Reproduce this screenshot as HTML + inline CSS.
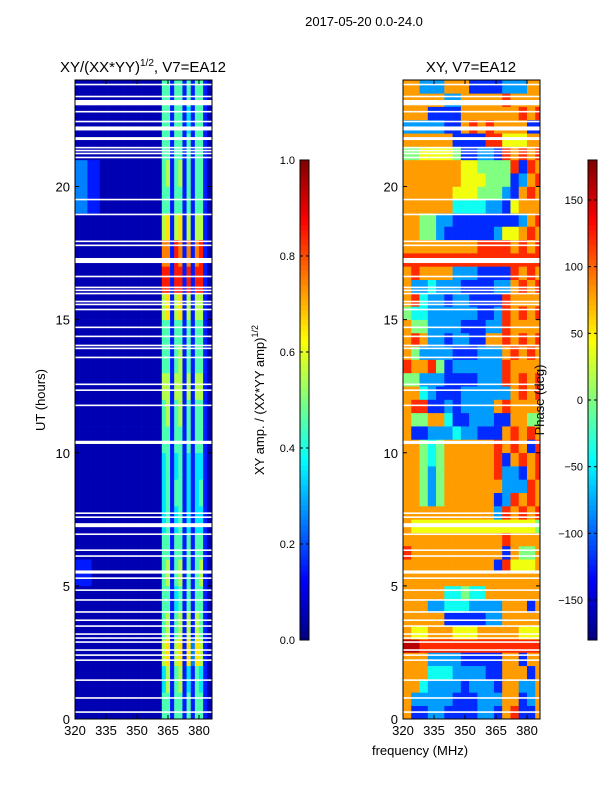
<!DOCTYPE html>
<html><head><meta charset="utf-8"><style>
body{margin:0;background:#fff;width:600px;height:800px;overflow:hidden;font-family:"Liberation Sans",sans-serif}
svg text{font-family:"Liberation Sans",sans-serif;fill:#000}
</style></head><body>
<svg id="fig" width="600" height="800" xmlns="http://www.w3.org/2000/svg">
<text x="364" y="26" font-size="13" text-anchor="middle">2017-05-20 0.0-24.0</text>
<text x="143" y="72" font-size="15" text-anchor="middle">XY/(XX*YY)<tspan font-size="10" dy="-6">1/2</tspan><tspan dy="6">, V7=EA12</tspan></text>
<text x="471" y="72" font-size="15" text-anchor="middle">XY, V7=EA12</text>
<text x="45" y="400" font-size="13" text-anchor="middle" transform="rotate(-90 45 400)">UT (hours)</text>
<text x="420" y="755" font-size="13" text-anchor="middle">frequency (MHz)</text>
<text x="264" y="400" font-size="13" text-anchor="middle" transform="rotate(-90 264 400)">XY amp. / (XX*YY amp)<tspan font-size="9" dy="-6">1/2</tspan></text>
<g id="gL"></g>
<g id="gR"></g>
<g id="axes"></g>
<text x="544" y="400" font-size="13" text-anchor="middle" transform="rotate(-90 544 400)">Phase (deg)</text>
</svg>
<script>
const freqMin = 320, freqMax = 386.3, hourMin = 0, hourMax = 24;
const xTicks = [320, 335, 350, 365, 380];
const yTicks = [0, 5, 10, 15, 20];
const ampTicks = [0.0, 0.2, 0.4, 0.6, 0.8, 1.0];
const phaseTicks = [-150, -100, -50, 0, 50, 100, 150];
// amplitude: 24 hourly rows (bottom->top), 33 cols of 2 MHz, value=(d+0.5)/10
const ampRows = [
"000000000000000000000441441414410","000000000000000000000351451314310","000000000000000000000561561626510","000000000000000000000451451515410",
"000000000000000000000441341414410","111100000000000000000451451414510","000000000000000000000441441414410","000000000000000000000341341313310",
"000000000000000000000341441313410","000000000000000000000341341313310","000000000000000000000441441414410","000000000000000000000451451414410",
"000000000000000000000551551515510","000000000000000000000441451414410","000000000000000000000441441414410","000000000000000000000561561515510",
"000000000000000000000881881818810","000000000000000000000771871717810","000000000000000000000561561515510","222111000000000000000441441414410",
"222111000000000000000451451414410","000000000000000000000441441414410","000000000000000000000441441314410","000000000000000000000441441414410"];
// phase: 48 half-hour rows (bottom->top), 17 cols of 4 MHz, value = -200 + d*40
const phaseRows = [
"72233222233278227","73333322233377237","77433332333277337","77744433332277727","77733332222277277","99888888888888888",
"76677766677777666","77777222223377777","77733444333377727","77777445447777777","77777777777777777","77777777777286667",
"87777777777727557","77777777777787777","76666666666666665","77777777777387878",
"77535777777238787","77535777777733387","77535777777833278","77545777777827878","77545777777878728","72233343322278787",
"75577422333227755","78822323333787777","77432223333337878","55333222233387878","87785233333387777","75333322233378787",
"78733233227787878","75533332223387777","54433333322387878","78433233222287777","73343332222337878","78777733322228787",
"88888888888888888","77777777788887878","77553222222366787","77553322222222378","77777744443326777","77777766655532787",
"77777776665552378","77777776655558287","55666652233287878","77777722228866677","33333227878777722","77722227777777878",
"77777337777787777","77333777222233377"];
// flagged (blank) times in hours and widths in hours
const gapTimes = [23.83,23.38,23.15,22.81,22.44,22.18,21.8,21.46,21.35,21.24,21.09,19.51,18.95,17.94,17.79,17.22,16.62,16.21,16.1,15.98,15.68,15.57,15.38,14.71,14.37,14.03,13.92,13.58,12.57,12.35,11.78,10.39,7.73,7.58,7.28,6.94,6.34,6.12,5.52,5.29,4.84,4.47,4.02,3.71,3.49,3.19,3.04,2.89,2.59,2.4,2.21,1.46,0.79,0.26];
const gapWidths = [0.06,0.06,0.2,0.06,0.06,0.15,0.11,0.06,0.06,0.06,0.06,0.06,0.06,0.06,0.06,0.19,0.06,0.06,0.06,0.06,0.06,0.06,0.06,0.06,0.06,0.06,0.06,0.06,0.06,0.06,0.06,0.12,0.06,0.06,0.15,0.06,0.06,0.06,0.12,0.06,0.06,0.06,0.06,0.06,0.06,0.06,0.06,0.06,0.06,0.06,0.06,0.06,0.06,0.06];

const NS='http://www.w3.org/2000/svg';
const PL={x0:75,x1:212}, PR={x0:403,x1:540}, Y0=80, Y1=719;
function xs(p,f){return p.x0+(f-freqMin)/(freqMax-freqMin)*(p.x1-p.x0);}
function ys(h){return Y1-(h-hourMin)/(hourMax-hourMin)*(Y1-Y0);}
function jet(v){v=Math.max(0,Math.min(1,v));
 const c=t=>Math.round(255*Math.max(0,Math.min(1,1.5-Math.abs(4*v-t))));
 return `rgb(${c(3)},${c(2)},${c(1)})`;}
function mk(tag,attrs,parent){const e=document.createElementNS(NS,tag);for(const k in attrs)e.setAttribute(k,attrs[k]);parent.appendChild(e);return e;}
const gL=document.getElementById('gL'), gR=document.getElementById('gR'), ax=document.getElementById('axes');
ampRows.forEach((row,i)=>{for(let j=0;j<row.length;j++){
 const f0=freqMin+2*j, f1=Math.min(freqMax,f0+2);
 const x0=xs(PL,f0), x1=xs(PL,f1), yT=ys(i+1), yB=ys(i);
 const r=mk('rect',{x:x0,y:yT,width:x1-x0+0.3,height:yB-yT+0.3,fill:jet((+row[j]+0.5)/10)},gL);
 
 
}});
phaseRows.forEach((row,i)=>{for(let j=0;j<row.length;j++){
 const f0=freqMin+4*j, f1=Math.min(freqMax,f0+4);
 const x0=xs(PR,f0), x1=xs(PR,f1), yT=ys(i/2+0.5), yB=ys(i/2);
 const val=-200+(+row[j])*40;
 const r=mk('rect',{x:x0,y:yT,width:x1-x0+0.3,height:yB-yT+0.3,fill:jet((val+180)/360)},gR);
 
 
}});
[[PL,gL],[PR,gR]].forEach(([p,g])=>{gapTimes.forEach((t,k)=>{
 const yT=ys(t+gapWidths[k]/2), yB=ys(t-gapWidths[k]/2);
 const r=mk('rect',{x:p.x0,y:yT,width:p.x1-p.x0,height:Math.max(1.5,yB-yT),fill:'#fff'},g);
 
 
});});
[PL,PR].forEach((p,pi)=>{
 const fr=mk('rect',{x:p.x0,y:Y0,width:p.x1-p.x0,height:Y1-Y0,fill:'none',stroke:'#000','stroke-width':1},ax);
 
 
 xTicks.forEach(f=>{const x=xs(p,f);
  mk('line',{x1:x,x2:x,y1:Y1,y2:Y1-4,stroke:'#000'},ax);mk('line',{x1:x,x2:x,y1:Y0,y2:Y0+4,stroke:'#000'},ax);
  const t=mk('text',{x:x,y:Y1+16,'font-size':13,'text-anchor':'middle'},ax);t.textContent=f;
  
  });
 yTicks.forEach(h=>{const y=ys(h);
  mk('line',{x1:p.x0,x2:p.x0+4,y1:y,y2:y,stroke:'#000'},ax);mk('line',{x1:p.x1,x2:p.x1-4,y1:y,y2:y,stroke:'#000'},ax);
  const t=mk('text',{x:p.x0-5,y:y+5,'font-size':13,'text-anchor':'end'},ax);t.textContent=h;
  
  });
});
function cbar(x,ticks,vmin,vmax,name,fmt){
 const CT=160,CB=640,W=9;const g=mk('g',{},ax);
 
 
 for(let k=0;k<96;k++){const v0=k/96;mk('rect',{x:x,y:CB-(k+1)*(CB-CT)/96,width:W,height:(CB-CT)/96+0.5,fill:jet(v0+0.005)},g);}
 mk('rect',{x:x,y:CT,width:W,height:CB-CT,fill:'none',stroke:'#000'},g);
 ticks.forEach(v=>{const y=CB-(v-vmin)/(vmax-vmin)*(CB-CT);
  mk('line',{x1:x,x2:x+3,y1:y,y2:y,stroke:'#000'},g);mk('line',{x1:x+W,x2:x+W-3,y1:y,y2:y,stroke:'#000'},g);
  const t=mk('text',{x:x-5,y:y+4,'font-size':11,'text-anchor':'end'},g);t.textContent=fmt(v);
  
  });
}
cbar(300,ampTicks,0,1,'amp-colorbar',v=>v.toFixed(1));
cbar(588,phaseTicks,-180,180,'phase-colorbar',v=>v<0?'\u2212'+(-v):''+v);
</script>
</body></html>
